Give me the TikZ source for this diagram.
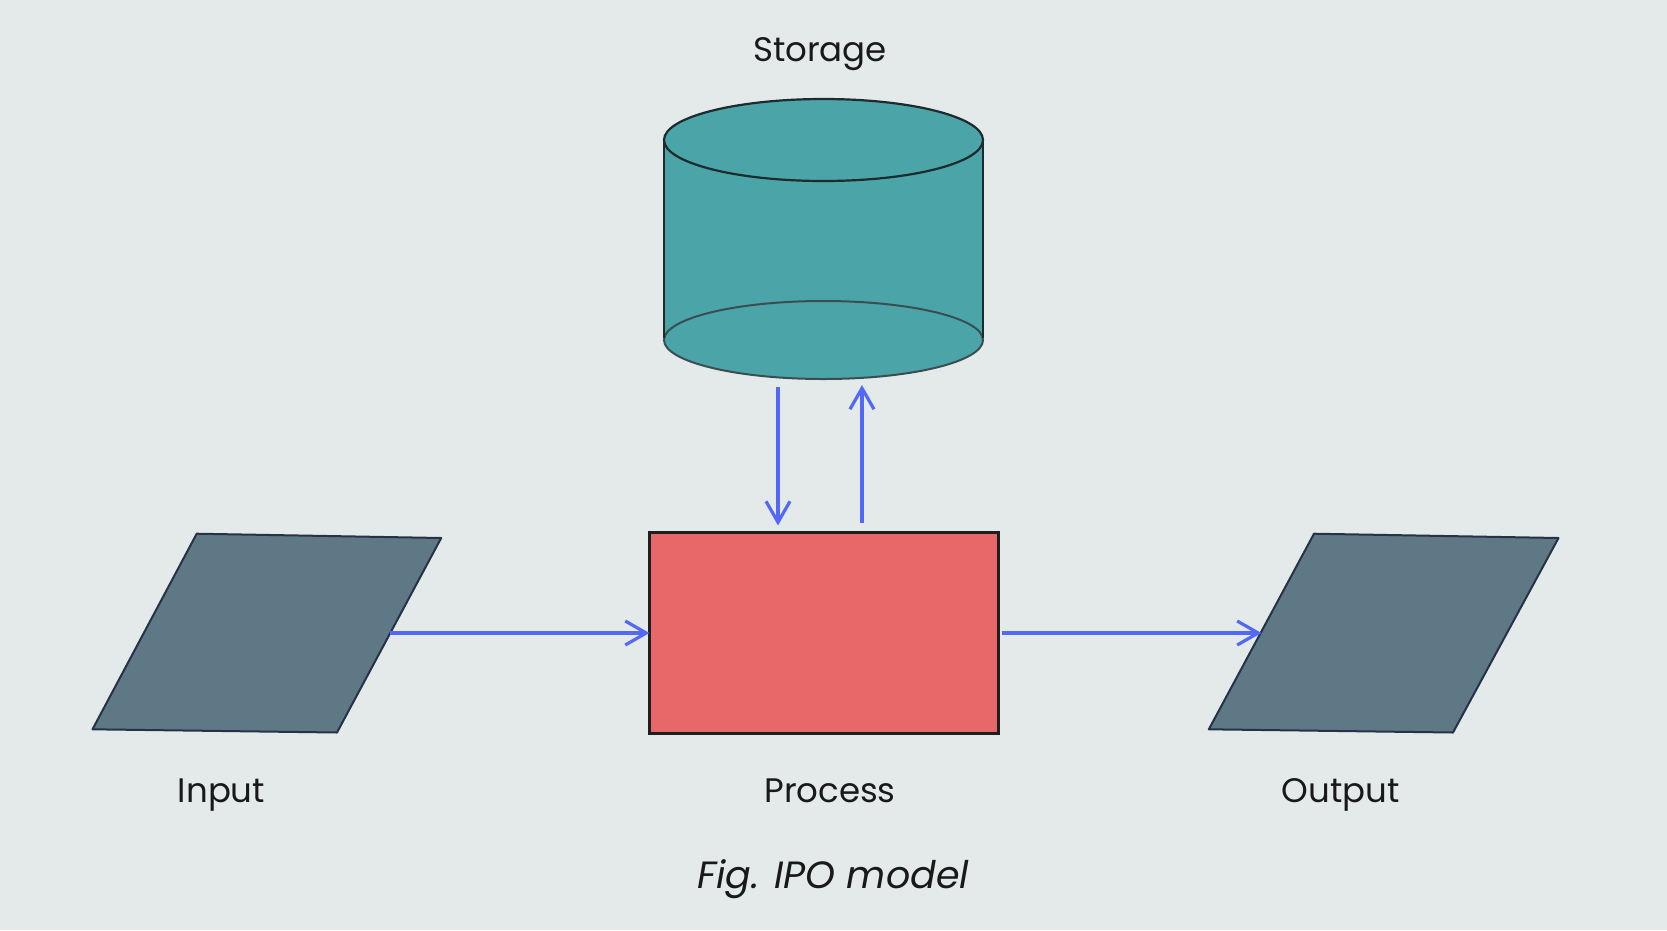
\documentclass[tikz,border=0pt]{standalone}
\usepackage{fontspec}
\setmainfont{Poppins}
\usepackage{xcolor}
\usepackage{tikz}
\usetikzlibrary{arrows.meta,positioning,shapes.geometric}
\definecolor{bgc}{HTML}{E4EAEA}
\definecolor{tealc}{HTML}{4BA4A7}
\definecolor{tealln}{HTML}{1C2B2E}
\definecolor{tealbot}{HTML}{3A4E52}
\definecolor{slatec}{HTML}{5E7885}
\definecolor{slateln}{HTML}{253247}
\definecolor{redc}{HTML}{E8686A}
\definecolor{flowc}{HTML}{5468F6}
\tikzset{
  flow/.style={-{Straight Barb[length=21pt,width=24pt,line width=3.2pt]},line width=3.4pt,flowc},
  procbox/.style={draw=black!88,line width=2.5pt,fill=redc,minimum width=349pt,minimum height=201pt,inner sep=0pt,outer sep=0pt},
  parl/.style={draw=slateln,line width=2pt,fill=slatec,line join=round},
  lbl/.style={anchor=base,font=\fontsize{34}{40}\selectfont,text=black!90},
  figcap/.style={anchor=base,font=\fontsize{38}{45}\selectfont\itshape,text=black!90}
}
\begin{document}
\begin{tikzpicture}[x=1pt,y=-1pt]
\fill[bgc] (0,0) rectangle (1667,930);
\useasboundingbox (0,0) rectangle (1667,930);
% storage
\fill[tealc] (664,140) rectangle (983,340);
\filldraw[fill=tealc,draw=tealbot,line width=2pt] (823.5,340) ellipse [x radius=159.5,y radius=39];
\draw[tealln,line width=2pt] (664,140) -- (664,338) (983,140) -- (983,338);
\filldraw[fill=tealc,draw=tealln,line width=2.2pt] (823.5,140) ellipse [x radius=159.5,y radius=41];
\node[lbl] (storage) at (820,61) {Storage};
\coordinate (st-l) at (778,387);
\coordinate (st-r) at (862,385);
% input / output
\draw[parl] (92.5,729.3) -- (196.7,533.7) -- (441.2,538) -- (337,732.5) -- cycle;
\draw[parl] (1208.8,729.3) -- (1314,533.7) -- (1558.5,538) -- (1453,732.5) -- cycle;
\coordinate (inp-e) at (390,633);
\coordinate (outp-w) at (1261.4,633);
% process
\node[procbox] (proc) at (824,633) {};
\node[lbl] (inp-lbl) at (221.5,802.7) {Input};
\node[lbl] (proc-lbl) at (830,802.7) {Process};
\node[lbl] (outp-lbl) at (1340.8,802.7) {Output};
\node[figcap] (caption) at (833,888) {Fig. IPO model};
% flows
\draw[flow] (inp-e) -- (proc.west);
\draw[flow,shorten <=3pt] (proc.east) -- (outp-w);
\draw[flow,shorten >=7pt] (st-l) -- (st-l |- proc.north);
\draw[flow,shorten <=10pt] (st-r |- proc.north) -- (st-r);
\end{tikzpicture}
\end{document}
